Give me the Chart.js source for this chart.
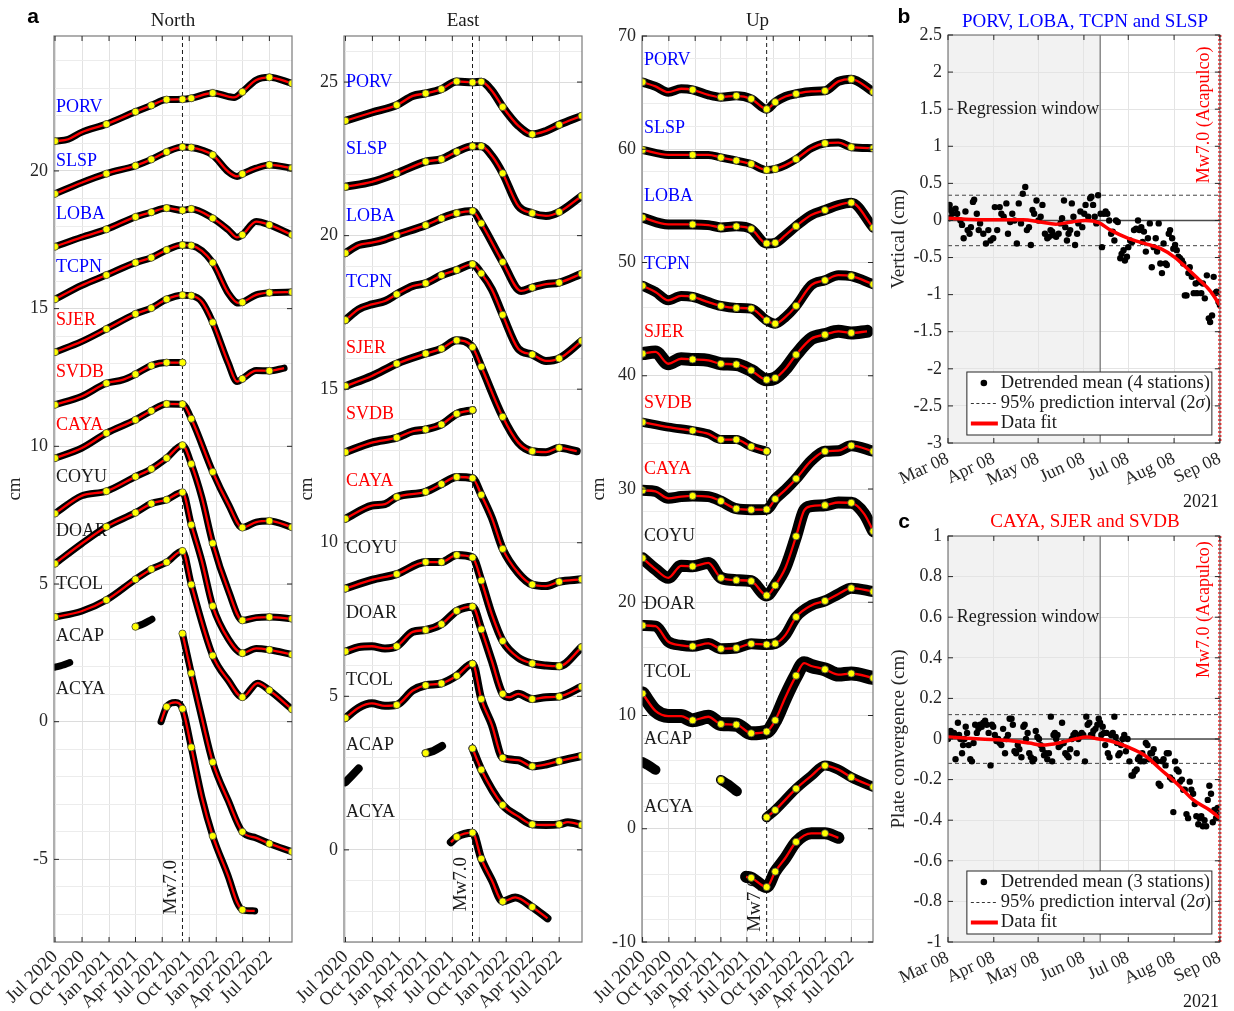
<!DOCTYPE html>
<html>
<head>
<meta charset="utf-8">
<title>GNSS time series and regression windows</title>
<script src="https://cdn.jsdelivr.net/npm/chart.js@4.4.1/dist/chart.umd.min.js"></script>
<style>
  html, body { margin: 0; padding: 0; background: #fff; }
  #page { position: relative; width: 1234px; height: 1011px; overflow: hidden; background: #fff; }
  .panel { position: absolute; }
</style>
</head>
<body>
<div id="page">
  <div class="panel" style="left:0;top:0;width:300px;height:1011px"><canvas id="north"></canvas></div>
  <div class="panel" style="left:290px;top:0;width:300px;height:1011px"><canvas id="east"></canvas></div>
  <div class="panel" style="left:585px;top:0;width:298px;height:1011px"><canvas id="up"></canvas></div>
  <div class="panel" style="left:880px;top:0;width:354px;height:510px"><canvas id="vert"></canvas></div>
  <div class="panel" style="left:880px;top:505px;width:354px;height:506px"><canvas id="conv"></canvas></div>
</div>
<script>
// ============ DATA ============
// Time axis: days since 1 Jul 2020
const MONTH_TICKS = [0, 92, 184, 274, 365, 457, 549, 639, 730];
const MONTH_LABELS = ['Jul 2020', 'Oct 2020', 'Jan 2021', 'Apr 2021', 'Jul 2021', 'Oct 2021', 'Jan 2022', 'Apr 2022', 'Jul 2022'];
const KNOT_DAYS = [0, 175, 274, 328, 380, 434, 464, 537, 638, 730, 807];
const MW_DAY = 434; // 8 Sep 2021

const STATIONS = ['PORV', 'SLSP', 'LOBA', 'TCPN', 'SJER', 'SVDB', 'CAYA', 'COYU', 'DOAR', 'TCOL', 'ACAP', 'ACYA'];
const STATION_COLORS = ['#0000ff', '#0000ff', '#0000ff', '#0000ff', '#ff0000', '#ff0000', '#ff0000',
    '#1a1a1a', '#1a1a1a', '#1a1a1a', '#1a1a1a', '#1a1a1a'];

// North (cm), [day, value]
const nPORV = [[0,21.08],[45,21.15],[90,21.4],[175,21.7],[274,22.15],[328,22.38],[380,22.59],[434,22.6],[464,22.64],[537,22.83],[590,22.7],[610,22.67],[638,22.87],[685,23.3],[730,23.4],[807,23.18]];
const nSLSP = [[0,19.17],[90,19.57],[175,19.9],[274,20.19],[328,20.42],[380,20.69],[434,20.87],[464,20.85],[500,20.76],[537,20.58],[590,19.97],[620,19.8],[638,19.89],[685,20.1],[730,20.22],[807,20.1]];
const nLOBA = [[0,17.25],[90,17.59],[175,17.88],[274,18.33],[328,18.5],[380,18.65],[434,18.57],[464,18.62],[537,18.28],[590,17.86],[620,17.59],[638,17.68],[685,18.16],[730,18.04],[807,17.68]];
const nTCPN = [[0,15.34],[90,15.84],[175,16.22],[274,16.67],[328,16.85],[380,17.13],[434,17.31],[464,17.29],[537,16.67],[590,15.56],[625,15.2],[638,15.23],[685,15.5],[730,15.58],[807,15.6]];
const nSJER = [[0,13.42],[90,13.8],[175,14.26],[274,14.81],[328,15.02],[380,15.34],[434,15.49],[464,15.47],[500,15.25],[537,14.5],[590,13.02],[620,12.35],[638,12.45],[685,12.75],[730,12.74],[780,12.84]];
const nSVDB = [[0,11.51],[90,11.81],[175,12.29],[230,12.41],[274,12.62],[328,12.93],[380,13.04],[434,13.04]];
const nCAYA = [[0,9.57],[90,9.93],[175,10.48],[274,10.96],[328,11.29],[380,11.54],[434,11.53],[464,11.0],[537,9.07],[590,7.9],[638,7.05],[685,7.25],[730,7.29],[807,7.06]];
const nCOYU = [[0,7.56],[90,8.2],[175,8.37],[274,8.9],[328,9.18],[380,9.57],[434,10.04],[464,9.36],[500,8.14],[537,6.48],[590,4.77],[638,3.68],[685,3.78],[730,3.8],[807,3.74]];
const nDOAR = [[0,5.74],[90,6.46],[175,7.08],[274,7.59],[328,7.92],[380,8.06],[434,8.33],[464,7.15],[500,5.83],[537,4.2],[590,3.01],[638,2.49],[685,2.66],[730,2.61],[807,2.44]];
const nTCOL = [[0,3.8],[90,4.01],[175,4.42],[274,5.17],[328,5.54],[380,5.79],[434,6.2],[464,4.98],[537,2.4],[590,1.5],[638,0.89],[690,1.4],[730,1.14],[807,0.45]];
const nACAP = [[434,3.2],[464,1.76],[500,0.13],[537,-1.47],[590,-2.87],[638,-4.0],[685,-4.22],[730,-4.43],[807,-4.72]];
const nACAPearly = [[0,1.98],[25,2.05],[50,2.15]];
const nACAPspring = [[274,3.45],[300,3.55],[330,3.72]];
const nACYA = [[361,0.0],[380,0.54],[410,0.7],[434,0.47],[464,-0.93],[500,-2.74],[537,-4.15],[590,-5.62],[620,-6.56],[638,-6.83],[680,-6.87]];

// East (cm)
const ePORV = [[0,23.74],[90,24.01],[175,24.25],[230,24.55],[274,24.63],[328,24.77],[380,25.02],[434,24.99],[464,25.01],[500,24.72],[537,24.19],[590,23.58],[638,23.3],[685,23.41],[730,23.61],[807,23.9]];
const eSLSP = [[0,21.59],[90,21.75],[175,22.03],[274,22.41],[328,22.49],[380,22.73],[434,22.91],[464,22.91],[500,22.6],[537,22.03],[590,20.97],[638,20.73],[685,20.64],[730,20.77],[807,21.29]];
const eLOBA = [[0,19.43],[45,19.69],[90,19.77],[135,19.88],[175,20.02],[274,20.34],[328,20.56],[380,20.73],[434,20.8],[464,20.4],[537,19.14],[600,18.2],[638,18.31],[685,18.42],[730,18.47],[807,18.76]];
const eTCPN = [[0,17.25],[45,17.6],[90,17.76],[135,17.87],[175,18.09],[230,18.36],[274,18.45],[328,18.71],[380,18.88],[434,19.07],[464,18.77],[500,18.25],[537,17.42],[590,16.32],[638,16.13],[685,15.92],[730,16.0],[807,16.57]];
const eSJER = [[0,15.1],[90,15.43],[175,15.83],[274,16.16],[328,16.32],[380,16.59],[434,16.37],[464,15.73],[537,14.1],[590,13.26],[638,12.98],[685,12.95],[730,13.09],[790,12.98]];
const eSVDB = [[0,12.95],[90,13.26],[175,13.42],[230,13.63],[274,13.69],[328,13.85],[380,14.2],[434,14.32]];
const eCAYA = [[0,10.78],[90,11.21],[135,11.26],[175,11.49],[274,11.66],[328,11.91],[380,12.14],[434,12.1],[464,11.56],[500,10.81],[537,9.8],[590,9.02],[638,8.64],[685,8.59],[730,8.73],[807,8.81]];
const eCOYU = [[0,8.51],[90,8.79],[175,8.98],[274,9.37],[328,9.37],[380,9.6],[434,9.52],[464,8.77],[500,7.67],[537,6.8],[590,6.26],[638,6.07],[685,6.0],[730,5.98],[807,6.6]];
const eDOAR = [[0,6.46],[45,6.6],[90,6.63],[135,6.56],[175,6.63],[230,7.1],[274,7.16],[328,7.35],[380,7.78],[434,7.92],[464,7.18],[500,6.15],[537,5.08],[560,4.97],[590,5.08],[638,4.91],[685,4.97],[730,4.99],[807,5.31]];
const eTCOL = [[0,4.29],[45,4.63],[90,4.77],[135,4.69],[175,4.72],[230,5.19],[274,5.36],[328,5.42],[380,5.67],[434,6.06],[464,4.91],[500,4.07],[537,3.0],[590,2.92],[638,2.72],[685,2.78],[730,2.89],[807,3.06]];
const eACAP = [[434,3.3],[464,2.61],[537,1.46],[590,1.09],[638,0.83],[685,0.81],[730,0.83],[760,0.9],[807,0.81]];
const eACAPearly = [[0,2.2],[20,2.4],[45,2.65]];
const eACAPspring = [[274,3.15],[300,3.22],[330,3.38]];
const eACYA = [[360,0.25],[380,0.42],[434,0.56],[464,-0.29],[500,-0.99],[537,-1.68],[580,-1.55],[638,-1.86],[690,-2.23]];

// Up (cm)
const uPORV = [[0,65.93],[45,65.55],[90,65.04],[135,65.34],[175,65.25],[230,64.8],[274,64.6],[328,64.72],[380,64.45],[434,63.54],[464,64.16],[500,64.66],[537,64.9],[590,65.11],[638,65.16],[685,65.99],[730,66.19],[807,65.07]];
const uSLSP = [[0,59.94],[90,59.5],[175,59.5],[230,59.5],[274,59.27],[328,59.0],[380,58.7],[434,58.17],[464,58.26],[500,58.6],[537,59.12],[590,60.09],[638,60.53],[685,60.59],[730,60.18],[807,60.09]];
const uLOBA = [[0,53.96],[90,53.36],[175,53.36],[230,53.3],[274,53.1],[328,53.19],[380,52.95],[434,51.68],[464,51.74],[500,52.42],[537,53.21],[590,54.19],[638,54.63],[685,55.07],[730,55.28],[807,53.07]];
const uTCPN = [[0,47.94],[45,47.4],[90,46.66],[135,47.05],[175,46.96],[230,46.5],[274,46.17],[328,45.99],[380,45.93],[434,44.89],[464,44.6],[500,45.19],[537,46.17],[590,48.0],[638,48.43],[685,48.88],[730,48.79],[807,48.08]];
const uSJER = [[0,41.95],[45,42.1],[90,41.06],[135,41.5],[175,41.44],[230,41.36],[274,41.06],[328,41.0],[380,40.47],[434,39.65],[464,39.8],[500,40.62],[537,41.86],[590,43.27],[638,43.63],[685,43.92],[730,43.78],[785,43.92]];
const uSVDB = [[0,35.9],[90,35.46],[175,35.16],[230,34.87],[274,34.36],[328,34.36],[380,33.74],[434,33.33]];
const uCAYA = [[0,29.88],[45,29.79],[90,29.18],[135,29.33],[175,29.39],[230,29.33],[274,28.93],[328,28.26],[380,28.17],[434,28.2],[464,29.11],[500,29.94],[537,30.91],[590,32.5],[638,33.33],[685,33.38],[730,33.83],[807,33.33]];
const uCOYU = [[0,23.89],[45,22.92],[90,22.16],[135,23.22],[175,23.17],[230,23.47],[274,22.16],[328,21.95],[380,21.86],[434,20.6],[464,21.49],[500,23.07],[537,25.82],[565,28.1],[590,28.48],[638,28.57],[685,28.81],[730,28.78],[775,27.81],[807,26.27]];
const uDOAR = [[0,17.95],[45,17.89],[90,16.51],[135,16.2],[175,16.11],[230,16.36],[274,15.9],[328,15.96],[380,16.33],[434,16.27],[464,16.36],[500,17.12],[537,18.7],[590,19.72],[638,20.12],[685,20.73],[730,21.24],[807,20.94]];
const uTCOL = [[0,11.94],[45,10.41],[90,9.95],[135,9.95],[175,9.58],[230,9.89],[274,9.25],[328,9.19],[380,8.43],[434,8.58],[464,9.58],[500,11.64],[537,13.52],[565,14.62],[590,14.37],[638,14.07],[685,13.61],[730,13.71],[807,13.31]];
const uACAP = [[434,1.01],[464,1.65],[537,3.54],[590,4.67],[638,5.58],[685,5.22],[730,4.55],[807,3.7]];
const uACAPearly = [[0,5.9],[20,5.6],[45,5.2]];
const uACAPspring = [[274,4.31],[300,3.9],[330,3.3]];
const uACYA = [[362,-4.24],[380,-4.33],[434,-5.15],[464,-3.78],[500,-2.56],[537,-1.16],[590,-0.4],[638,-0.4],[685,-0.8]];

// Station label heights (cm) in each component panel
const NORTH_LABEL_Y = [22.3, 20.36, 18.44, 16.52, 14.59, 12.7, 10.78, 8.86, 6.93, 5.0, 3.09, 1.16];
const EAST_LABEL_Y = [24.99, 22.82, 20.64, 18.49, 16.33, 14.18, 12.0, 9.82, 7.69, 5.53, 3.39, 1.21];
const UP_LABEL_Y = [67.85, 61.86, 55.81, 49.82, 43.86, 37.55, 31.77, 25.82, 19.81, 13.82, 7.9, 1.86];

const NORTH_YTICKS = [-5, 0, 5, 10, 15, 20];
const EAST_YTICKS = [0, 5, 10, 15, 20, 25];
const UP_YTICKS = [-10, 0, 10, 20, 30, 40, 50, 60, 70];

// Regression panels: days since 8 Mar 2021
const WIN_TICKS = [0, 31, 61, 92, 122, 153, 184];
const WIN_LABELS = ['Mar 08', 'Apr 08', 'May 08', 'Jun 08', 'Jul 08', 'Aug 08', 'Sep 08'];
const WIN_END = 103;   // end of regression window (19 Jun)
const QUAKE_DAY = 184; // 8 Sep 2021
const VERT_YTICKS = [-3, -2.5, -2, -1.5, -1, -0.5, 0, 0.5, 1, 1.5, 2, 2.5];
const CONV_YTICKS = [-1, -0.8, -0.6, -0.4, -0.2, 0, 0.2, 0.4, 0.6, 0.8, 1];
const VERT_BAND = 0.34;
const CONV_BAND = 0.12;

const vertDots = [[0.7,0.03],[1.1,0.21],[1.8,0.14],[2.9,0.09],[5.1,0.16],[6.2,0.09],[8.4,0],[9.5,-0.06],[10.6,-0.24],[11.8,0.12],[13.3,-0.13],[14.6,-0.18],[15.5,-0.09],[16.9,0.25],[17.7,0.28],[19.5,0.09],[20.8,-0.13],[21.7,-0.04],[23.9,-0.18],[25.7,-0.31],[27.3,-0.13],[28.8,-0.27],[30.6,-0.24],[31.7,0.18],[33.3,-0.13],[35.0,0.18],[36.1,0.09],[37.7,0.05],[39.5,0.23],[40.6,-0.18],[42.1,-0.02],[43.5,0.09],[45.0,0],[46.6,-0.31],[47.9,0.23],[49.4,-0.04],[50.6,0.36],[52.3,0.45],[53.4,-0.13],[54.8,-0.09],[56.1,-0.33],[57.2,0.14],[58.3,0.09],[59.9,0.27],[61.2,0],[62.7,0.05],[63.9,0.21],[65.6,-0.18],[67.2,-0.24],[68.3,-0.22],[69.4,-0.13],[70.5,-0.15],[71.6,-0.2],[73.2,-0.22],[74.9,-0.18],[76.1,-0.04],[77.2,0.03],[78.5,0.27],[79.4,-0.09],[80.5,-0.27],[81.6,-0.18],[82.7,-0.13],[83.8,0.23],[84.9,0.05],[86.0,-0.33],[87.4,-0.18],[88.2,-0.04],[89.6,0.12],[90.9,-0.09],[92.2,0.09],[93.1,0.21],[94.9,0.05],[96.2,0.3],[97.1,0.32],[98.2,0.21],[99.3,0.05],[100.4,-0.04],[101.6,0.34],[103.3,0.09],[104.2,-0.36],[105.5,0.09],[106.7,0.12],[107.8,0.09],[109.1,0],[110.4,-0.18],[111.5,-0.15],[112.6,-0.27],[113.7,0],[114.9,-0.02],[116.6,-0.51],[117.5,-0.45],[118.8,-0.4],[119.7,-0.54],[121.1,-0.49],[122.0,-0.36],[123.3,-0.27],[124.6,-0.29],[125.9,-0.13],[127.3,-0.11],[128.6,0],[129.5,-0.13],[130.8,-0.09],[131.7,-0.29],[132.6,-0.15],[133.9,-0.42],[135.3,-0.24],[136.6,-0.04],[137.9,-0.63],[139.2,-0.36],[140.6,-0.24],[141.5,-0.42],[142.6,-0.04],[143.7,-0.58],[144.8,-0.71],[145.9,-0.31],[147.2,-0.58],[148.1,-0.6],[149.4,-0.18],[150.3,-0.13],[151.7,-0.24],[152.5,-0.38],[153.7,-0.33],[154.8,-0.4],[155.9,-0.49],[157.0,-0.51],[158.3,-0.54],[159.2,-0.58],[160.3,-1.01],[161.4,-1.01],[162.7,-0.71],[163.6,-0.63],[165.0,-0.76],[166.3,-0.98],[167.6,-0.85],[168.5,-0.98],[169.8,-0.83],[171.4,-0.98],[172.5,-0.85],[173.8,-1.05],[175.2,-0.74],[176.5,-1.32],[177.4,-1.37],[178.7,-1.28],[179.8,-0.76],[180.9,-0.98],[181.8,-0.96],[183.1,-1.1],[184.0,-1.14]];
const vertFit = [[0,0.03],[22,0.01],[51,0.01],[62,-0.02],[73,-0.05],[84,-0.02],[93,0.0],[102,-0.03],[110,-0.13],[122,-0.24],[133,-0.31],[144,-0.38],[153,-0.49],[161,-0.63],[170,-0.8],[177,-0.94],[184,-1.14]];

const convDots = [[0,0],[0.7,0.03],[1.8,0.04],[2.9,0.02],[4.0,0.03],[5.1,-0.1],[6.7,0.08],[7.5,0.02],[8.4,0],[9.5,-0.07],[10.2,-0.03],[11.1,0],[12.0,0.06],[12.9,0.03],[14.0,-0.03],[15.1,-0.1],[16.2,-0.11],[17.3,-0.02],[18.4,0.07],[19.5,0.03],[20.6,0.05],[21.7,0.07],[22.8,0.06],[23.9,0.08],[25.1,0.09],[26.2,0.07],[27.5,0.03],[28.8,-0.13],[29.7,0.07],[30.6,0.06],[31.7,0.02],[32.8,-0.01],[33.9,0],[35.0,-0.02],[36.1,-0.03],[37.3,0.05],[38.6,-0.07],[39.5,0],[40.6,0.02],[41.7,0.1],[43.0,0.1],[43.9,0.07],[45.0,-0.06],[46.1,-0.07],[47.2,-0.03],[48.3,-0.05],[49.7,-0.09],[51.0,0.06],[51.9,0.07],[52.8,0],[53.9,0.03],[55.0,-0.07],[56.1,-0.09],[57.2,-0.11],[58.3,-0.1],[59.4,0.04],[60.5,0.01],[61.6,0],[62.7,-0.03],[63.9,-0.05],[65.0,-0.08],[66.1,-0.07],[67.2,-0.1],[68.3,-0.07],[69.6,0.11],[70.5,-0.11],[71.4,0.02],[72.3,0.03],[73.2,0],[74.1,0.02],[74.9,-0.04],[76.1,-0.03],[77.2,0.08],[78.3,-0.02],[79.4,-0.07],[80.5,-0.08],[81.6,-0.09],[82.7,-0.05],[83.8,0],[84.9,0.02],[86.0,0.03],[87.1,-0.07],[88.2,0],[89.4,0.02],[90.5,0.03],[91.6,0.02],[92.7,-0.11],[93.6,0.11],[94.5,0.07],[95.6,0.08],[96.7,0.02],[97.6,0.02],[98.4,0.04],[99.8,0.05],[101.1,0.07],[102.0,0.1],[102.9,0.08],[103.8,0.02],[104.7,0.06],[105.5,0.03],[106.4,-0.03],[107.3,0.03],[108.2,-0.07],[109.3,-0.09],[110.4,0.02],[111.5,0.03],[112.6,0.11],[113.5,0.01],[114.4,-0.02],[115.3,-0.08],[116.2,-0.07],[117.1,-0.03],[118.2,0],[119.3,0.02],[120.4,-0.06],[121.5,0],[122.8,-0.11],[124.2,-0.18],[125.1,-0.18],[126.4,-0.16],[127.7,-0.15],[128.6,-0.1],[129.5,-0.09],[130.4,-0.11],[131.5,-0.07],[132.6,-0.11],[133.9,-0.02],[135.0,-0.03],[135.9,-0.1],[137.0,-0.07],[138.1,-0.07],[139.2,-0.05],[140.4,-0.1],[141.5,-0.11],[142.6,-0.22],[143.7,-0.23],[145.0,-0.11],[145.9,-0.1],[147.2,-0.13],[148.1,-0.07],[149.4,-0.07],[150.3,-0.19],[151.7,-0.2],[152.5,-0.36],[153.7,-0.11],[154.8,-0.15],[156.1,-0.16],[157.0,-0.21],[158.3,-0.2],[159.2,-0.25],[160.3,-0.25],[161.4,-0.37],[162.5,-0.39],[163.6,-0.21],[164.7,-0.25],[165.9,-0.27],[167.0,-0.32],[168.1,-0.38],[169.4,-0.42],[170.3,-0.39],[171.4,-0.38],[172.5,-0.43],[173.6,-0.4],[174.7,-0.43],[175.8,-0.3],[176.9,-0.23],[178.0,-0.27],[179.2,-0.41],[180.3,-0.35],[181.4,-0.39],[182.5,-0.34],[183.6,-0.37]];
const convFit = [[0,0.01],[22,0.0],[44,-0.01],[55,-0.02],[64,-0.03],[75,-0.02],[86,0.0],[94,0.01],[102,0.0],[110,-0.01],[122,-0.04],[133,-0.08],[144,-0.15],[155,-0.22],[166,-0.3],[177,-0.35],[184,-0.39]];

// ============ STYLE ============
const SERIF = "'Liberation Serif', 'Times New Roman', serif";
const SANS = "'Liberation Sans', Arial, sans-serif";
const INK = '#262626';
Chart.defaults.font.family = SERIF;
Chart.defaults.font.size = 17;
Chart.defaults.color = INK;
Chart.defaults.animation = false;

const pts = arr => arr.map(p => ({ x: p[0], y: p[1] }));

// ============ HELPERS ============

function stationDatasets(segments, bandWidth) {
    const sets = [];
    segments.forEach(seg => {
        // dense daily solutions drawn as a black ribbon
        sets.push({
            data: pts(seg.data), borderColor: '#000', borderWidth: bandWidth,
            pointRadius: 0, cubicInterpolationMode: 'monotone',
            borderCapStyle: 'round', borderJoinStyle: 'round', order: 3
        });
        if (seg.fit !== false) {
            sets.push({
                data: pts(seg.data), borderColor: '#ff0000', borderWidth: 2.3,
                pointRadius: 0, cubicInterpolationMode: 'monotone', order: 2
            });
        }
        if (seg.yellow !== false) {
            sets.push({
                data: pts(seg.data.filter(p => KNOT_DAYS.includes(p[0]))), showLine: false,
                pointRadius: 3.6, pointBackgroundColor: '#ffff00',
                pointBorderColor: '#404040', pointBorderWidth: 0.8, order: 1
            });
        }
    });
    return sets;
}

function drawFrame(chart, xTicks, yTicks) {
    const { ctx, chartArea: a, scales: { x, y } } = chart;
    ctx.save();
    ctx.strokeStyle = '#7a7a7a';
    ctx.lineWidth = 1.2;
    ctx.strokeRect(a.left, a.top, a.right - a.left, a.bottom - a.top);
    ctx.strokeStyle = INK;
    ctx.lineWidth = 1;
    ctx.beginPath();
    xTicks.forEach(v => {
        const px = x.getPixelForValue(v);
        ctx.moveTo(px, a.bottom); ctx.lineTo(px, a.bottom - 5);
        ctx.moveTo(px, a.top); ctx.lineTo(px, a.top + 5);
    });
    yTicks.forEach(v => {
        const py = y.getPixelForValue(v);
        ctx.moveTo(a.left, py); ctx.lineTo(a.left + 5, py);
        ctx.moveTo(a.right, py); ctx.lineTo(a.right - 5, py);
    });
    ctx.stroke();
    ctx.restore();
}

function timeSeriesPanel(canvasId, p) {
    const datasets = [];
    p.series.forEach((segs, i) => {
        const w = Array.isArray(p.band) ? p.band[i] : p.band;
        datasets.push(...stationDatasets(segs, w));
    });

    const minorTicks = [];
    for (let v = Math.ceil(p.yMin / p.minor) * p.minor; v <= p.yMax; v += p.minor) minorTicks.push(v);

    const textPlugin = {
        id: 'panelText',
        beforeDatasetsDraw(chart) {
            const { ctx, chartArea: a, scales: { x, y } } = chart;
            const mx = x.getPixelForValue(MW_DAY);
            ctx.save();
            ctx.strokeStyle = '#1a1a1a';
            ctx.lineWidth = 1;
            ctx.setLineDash([4, 3]);
            ctx.beginPath(); ctx.moveTo(mx, a.top); ctx.lineTo(mx, a.bottom); ctx.stroke();
            ctx.setLineDash([]);
            ctx.translate(mx - 2, y.getPixelForValue(p.mwY));
            ctx.rotate(-Math.PI / 2);
            ctx.font = `19px ${SERIF}`;
            ctx.fillStyle = '#1a1a1a';
            ctx.textAlign = 'left';
            ctx.textBaseline = 'bottom';
            ctx.fillText('Mw7.0', 0, 0);
            ctx.restore();

            ctx.save();
            ctx.font = `18px ${SERIF}`;
            ctx.textAlign = 'left';
            ctx.textBaseline = 'middle';
            STATIONS.forEach((s, i) => {
                ctx.fillStyle = STATION_COLORS[i];
                ctx.fillText(s, a.left + 2, y.getPixelForValue(p.labelY[i]));
            });
            ctx.fillStyle = '#1a1a1a';
            ctx.textAlign = 'center';
            ctx.font = `19px ${SERIF}`;
            ctx.fillText(p.title, (a.left + a.right) / 2, 21);
            if (p.letter) {
                ctx.font = `bold 21px ${SANS}`;
                ctx.fillStyle = '#000';
                ctx.fillText(p.letter, p.letterX, 17);
            }
            ctx.restore();
        },
        afterDraw(chart) {
            drawFrame(chart, MONTH_TICKS, p.yMajor);
        }
    };

    return new Chart(document.getElementById(canvasId), {
        type: 'line',
        data: { datasets },
        options: {
            responsive: true,
            maintainAspectRatio: false,
            animation: false,
            layout: { padding: { top: 36, right: p.padRight, left: 0, bottom: 0 } },
            plugins: { legend: { display: false }, tooltip: { enabled: false } },
            scales: {
                x: {
                    type: 'linear', min: p.xMin, max: p.xMax,
                    afterBuildTicks: s => { s.ticks = MONTH_TICKS.map(v => ({ value: v })); },
                    afterFit: s => { s.height = 69; },
                    grid: { color: '#e2e2e2', drawTicks: false },
                    border: { display: false },
                    ticks: {
                        autoSkip: false, minRotation: 45, maxRotation: 45, padding: 4,
                        font: { size: 19 },
                        callback: (v, i) => MONTH_LABELS[i]
                    }
                },
                y: {
                    type: 'linear', min: p.yMin, max: p.yMax,
                    afterBuildTicks: s => { s.ticks = minorTicks.map(v => ({ value: v })); },
                    afterFit: s => { s.width = p.yAxisWidth; },
                    grid: {
                        drawTicks: false,
                        color: c => p.yMajor.includes(c.tick.value) ? '#dcdcdc' : '#ececec'
                    },
                    border: { display: false },
                    ticks: {
                        autoSkip: false, padding: 6, font: { size: 18 },
                        callback: v => p.yMajor.includes(v) ? String(v) : ''
                    },
                    title: { display: true, text: 'cm', font: { size: 19 }, padding: { top: p.titlePad, bottom: 0 } }
                }
            }
        },
        plugins: [textPlugin]
    });
}

function drawLegend(ctx, a, nStations) {
    const w = 245, h = 63;
    const lx = a.right - 8 - w, ly = a.bottom - 8 - h;
    ctx.save();
    ctx.fillStyle = '#fff';
    ctx.fillRect(lx, ly, w, h);
    ctx.strokeStyle = INK;
    ctx.lineWidth = 1;
    ctx.strokeRect(lx, ly, w, h);
    const rows = [ly + 11, ly + 31.5, ly + 51.5];
    // dot marker
    ctx.fillStyle = '#000';
    ctx.beginPath(); ctx.arc(lx + 17, rows[0], 3.3, 0, Math.PI * 2); ctx.fill();
    // dashed marker
    ctx.strokeStyle = '#333';
    ctx.setLineDash([3, 2.5]);
    ctx.beginPath(); ctx.moveTo(lx + 4, rows[1]); ctx.lineTo(lx + 31, rows[1]); ctx.stroke();
    ctx.setLineDash([]);
    // fit marker
    ctx.strokeStyle = '#ff0000';
    ctx.lineWidth = 4;
    ctx.beginPath(); ctx.moveTo(lx + 4, rows[2]); ctx.lineTo(lx + 31, rows[2]); ctx.stroke();
    // texts
    ctx.fillStyle = '#1a1a1a';
    ctx.font = `18.5px ${SERIF}`;
    ctx.textAlign = 'left';
    ctx.textBaseline = 'middle';
    const tx = lx + 34;
    ctx.fillText(`Detrended mean (${nStations} stations)`, tx, rows[0]);
    const part = '95% prediction interval (2';
    ctx.fillText(part, tx, rows[1]);
    let cx = tx + ctx.measureText(part).width;
    ctx.font = `italic 18.5px ${SERIF}`;
    ctx.fillText('\u03c3', cx, rows[1]);
    cx += ctx.measureText('\u03c3').width;
    ctx.font = `18.5px ${SERIF}`;
    ctx.fillText(')', cx, rows[1]);
    ctx.fillText('Data fit', tx, rows[2]);
    ctx.restore();
}

function windowPanel(canvasId, p) {
    const annotate = {
        id: 'windowAnnotations',
        beforeDraw(chart) {
            const { ctx, chartArea: a, scales: { x } } = chart;
            ctx.save();
            ctx.fillStyle = '#f2f2f2';
            ctx.fillRect(a.left, a.top, x.getPixelForValue(WIN_END) - a.left, a.bottom - a.top);
            ctx.restore();
        },
        beforeDatasetsDraw(chart) {
            const { ctx, chartArea: a, scales: { x, y } } = chart;
            ctx.save();
            // regression window boundary
            const wx = x.getPixelForValue(WIN_END);
            ctx.strokeStyle = '#6e6e6e';
            ctx.lineWidth = 1.2;
            ctx.beginPath(); ctx.moveTo(wx, a.top); ctx.lineTo(wx, a.bottom); ctx.stroke();
            // zero line
            const zy = y.getPixelForValue(0);
            ctx.strokeStyle = '#4a4a4a';
            ctx.lineWidth = 1.5;
            ctx.beginPath(); ctx.moveTo(a.left, zy); ctx.lineTo(a.right, zy); ctx.stroke();
            // 95% prediction interval
            ctx.strokeStyle = '#444';
            ctx.lineWidth = 1;
            ctx.setLineDash([4, 3]);
            [p.band, -p.band].forEach(v => {
                const py = y.getPixelForValue(v);
                ctx.beginPath(); ctx.moveTo(a.left, py); ctx.lineTo(a.right, py); ctx.stroke();
            });
            ctx.setLineDash([]);
            ctx.fillStyle = '#1a1a1a';
            ctx.font = `18px ${SERIF}`;
            ctx.textAlign = 'left';
            ctx.textBaseline = 'middle';
            ctx.fillText('Regression window', x.getPixelForValue(6), y.getPixelForValue(p.windowTextY));
            ctx.restore();
        },
        afterDraw(chart) {
            const { ctx, chartArea: a, scales: { x, y } } = chart;
            ctx.save();
            // earthquake marker
            const qx = x.getPixelForValue(QUAKE_DAY);
            ctx.strokeStyle = '#ff0000';
            ctx.lineWidth = 3;
            ctx.setLineDash([2, 2]);
            ctx.beginPath(); ctx.moveTo(qx, a.top); ctx.lineTo(qx, a.bottom); ctx.stroke();
            ctx.setLineDash([]);
            ctx.restore();

            drawFrame(chart, WIN_TICKS, p.yTicks);

            ctx.save();
            ctx.translate(a.right - 16, y.getPixelForValue(p.quakeTextY));
            ctx.rotate(-Math.PI / 2);
            ctx.fillStyle = '#ff0000';
            ctx.font = `18px ${SERIF}`;
            ctx.textAlign = 'left';
            ctx.textBaseline = 'middle';
            ctx.fillText('Mw7.0 (Acapulco)', 0, 0);
            ctx.restore();

            drawLegend(ctx, a, p.nStations);

            ctx.save();
            ctx.textAlign = 'center';
            ctx.textBaseline = 'middle';
            ctx.fillStyle = p.titleColor;
            ctx.font = `19px ${SERIF}`;
            ctx.fillText(p.title, 205, p.titleY);
            ctx.fillStyle = '#1a1a1a';
            ctx.font = `18px ${SERIF}`;
            ctx.fillText('2021', 321, p.yearY);
            ctx.fillStyle = '#000';
            ctx.font = `bold 21px ${SANS}`;
            ctx.fillText(p.letter, 24, 17);
            ctx.restore();
        }
    };

    return new Chart(document.getElementById(canvasId), {
        type: 'line',
        data: {
            datasets: [
                {
                    data: pts(p.fit), borderColor: '#ff0000', borderWidth: 3.5,
                    pointRadius: 0, cubicInterpolationMode: 'monotone', order: 1
                },
                {
                    data: pts(p.dots), showLine: false, pointRadius: 3.2,
                    pointBackgroundColor: '#000', pointBorderWidth: 0, order: 2
                }
            ]
        },
        options: {
            responsive: true,
            maintainAspectRatio: false,
            animation: false,
            layout: { padding: { top: p.padTop, right: 10, left: 0, bottom: 0 } },
            plugins: { legend: { display: false }, tooltip: { enabled: false } },
            scales: {
                x: {
                    type: 'linear', min: 0, max: QUAKE_DAY,
                    afterBuildTicks: s => { s.ticks = WIN_TICKS.map(v => ({ value: v })); },
                    afterFit: s => { s.height = p.xAxisHeight; },
                    grid: { color: '#e4e4e4', drawTicks: false },
                    border: { display: false },
                    ticks: {
                        autoSkip: false, minRotation: 25, maxRotation: 25, padding: 5,
                        font: { size: 18 },
                        callback: (v, i) => WIN_LABELS[i]
                    }
                },
                y: {
                    type: 'linear', min: p.yTicks[0], max: p.yTicks[p.yTicks.length - 1],
                    afterBuildTicks: s => { s.ticks = p.yTicks.map(v => ({ value: v })); },
                    afterFit: s => { s.width = 68; },
                    grid: { color: '#e4e4e4', drawTicks: false },
                    border: { display: false },
                    ticks: { autoSkip: false, padding: 6, font: { size: 18 }, callback: v => String(Math.round(v * 10) / 10) },
                    title: { display: true, text: p.yTitle, font: { size: 19 }, padding: { top: 8, bottom: 0 } }
                }
            }
        },
        plugins: [annotate]
    });
}

// ============ BUILD ============

timeSeriesPanel('north', {
    title: 'North', letter: 'a', letterX: 33,
    yMin: -8, yMax: 24.9, minor: 1, yMajor: NORTH_YTICKS,
    xMin: -3.5, xMax: 807, yAxisWidth: 54, padRight: 8, titlePad: 4,
    labelY: NORTH_LABEL_Y, mwY: -7, band: 7,
    series: [
        [{ data: nPORV }], [{ data: nSLSP }], [{ data: nLOBA }], [{ data: nTCPN }],
        [{ data: nSJER }], [{ data: nSVDB }], [{ data: nCAYA }], [{ data: nCOYU }],
        [{ data: nDOAR }], [{ data: nTCOL }],
        [{ data: nACAP }, { data: nACAPearly, fit: false, yellow: false }, { data: nACAPspring, fit: false }],
        [{ data: nACYA }]
    ]
});

timeSeriesPanel('east', {
    title: 'East',
    yMin: -3, yMax: 26.5, minor: 1, yMajor: EAST_YTICKS,
    xMin: -5, xMax: 808, yAxisWidth: 54, padRight: 8, titlePad: 6,
    labelY: EAST_LABEL_Y, mwY: -2, band: 8,
    series: [
        [{ data: ePORV }], [{ data: eSLSP }], [{ data: eLOBA }], [{ data: eTCPN }],
        [{ data: eSJER }], [{ data: eSVDB }], [{ data: eCAYA }], [{ data: eCOYU }],
        [{ data: eDOAR }], [{ data: eTCOL }],
        [{ data: eACAP }, { data: eACAPearly, fit: false, yellow: false }, { data: eACAPspring, fit: false }],
        [{ data: eACYA }]
    ]
});

timeSeriesPanel('up', {
    title: 'Up',
    yMin: -10, yMax: 70, minor: 2, yMajor: UP_YTICKS,
    xMin: -2, xMax: 806, yAxisWidth: 57, padRight: 10, titlePad: 3,
    labelY: UP_LABEL_Y, mwY: -9.1,
    band: [9, 8, 10, 10, 13, 9, 11, 12, 11, 14, 10, 12],
    series: [
        [{ data: uPORV }], [{ data: uSLSP }], [{ data: uLOBA }], [{ data: uTCPN }],
        [{ data: uSJER }], [{ data: uSVDB }], [{ data: uCAYA }], [{ data: uCOYU }],
        [{ data: uDOAR }], [{ data: uTCOL }],
        [{ data: uACAP }, { data: uACAPearly, fit: false, yellow: false }, { data: uACAPspring, fit: false }],
        [{ data: uACYA }]
    ]
});

windowPanel('vert', {
    letter: 'b', title: 'PORV, LOBA, TCPN and SLSP', titleColor: '#0000ff', titleY: 22, yearY: 502,
    yTicks: VERT_YTICKS, yTitle: 'Vertical (cm)', band: VERT_BAND, nStations: 4,
    dots: vertDots, fit: vertFit, windowTextY: 1.5, quakeTextY: 0.5,
    padTop: 35, xAxisHeight: 67
});

windowPanel('conv', {
    letter: 'c', title: 'CAYA, SJER and SVDB', titleColor: '#ff0000', titleY: 17, yearY: 497,
    yTicks: CONV_YTICKS, yTitle: 'Plate convergence (cm)', band: CONV_BAND, nStations: 3,
    dots: convDots, fit: convFit, windowTextY: 0.6, quakeTextY: 0.3,
    padTop: 31, xAxisHeight: 69
});
</script>
</body>
</html>
